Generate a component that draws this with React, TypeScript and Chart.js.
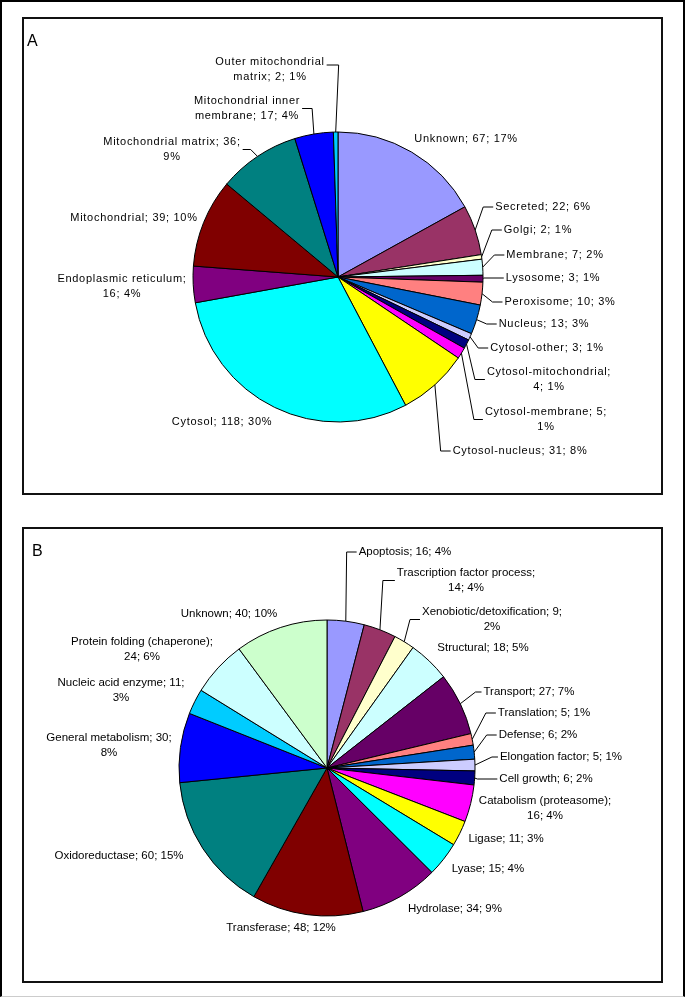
import React, { useEffect, useRef } from "react";
import { Chart, registerables } from "chart.js";
Chart.register(...registerables);

// ---------- Panel A: subcellular location ----------
const locationCategories = [
  "Unknown", "Secreted", "Golgi", "Membrane", "Lysosome", "Peroxisome", "Nucleus",
  "Cytosol-other", "Cytosol-mitochondrial", "Cytosol-membrane", "Cytosol-nucleus",
  "Cytosol", "Endoplasmic reticulum", "Mitochondrial", "Mitochondrial matrix",
  "Mitochondrial inner membrane", "Outer mitochondrial matrix",
];
const locationCounts = [67, 22, 2, 7, 3, 10, 13, 3, 4, 5, 31, 118, 16, 39, 36, 17, 2];
const locationPercents = [17, 6, 1, 2, 1, 3, 3, 1, 1, 1, 8, 30, 4, 10, 9, 4, 1];

// ---------- Panel B: molecular function ----------
const functionCategories = [
  "Apoptosis", "Trascription factor process", "Xenobiotic/detoxification", "Structural",
  "Transport", "Translation", "Defense", "Elongation factor", "Cell growth",
  "Catabolism (proteasome)", "Ligase", "Lyase", "Hydrolase", "Transferase",
  "Oxidoreductase", "General metabolism", "Nucleic acid enzyme",
  "Protein folding (chaperone)", "Unknown",
];
const functionCounts = [16, 14, 9, 18, 27, 5, 6, 5, 6, 16, 11, 15, 34, 48, 60, 30, 11, 24, 40];
const functionPercents = [4, 4, 2, 5, 7, 1, 2, 1, 2, 4, 3, 4, 9, 12, 15, 8, 3, 6, 10];

// Excel default series palette
const excelPalette = [
  "#9999FF", "#993366", "#FFFFCC", "#CCFFFF", "#660066", "#FF8080", "#0066CC",
  "#CCCCFF", "#000080", "#FF00FF", "#FFFF00", "#00FFFF", "#800080", "#800000",
  "#008080", "#0000FF", "#00CCFF", "#CCFFFF", "#CCFFCC",
];

// ---------- label layout (offsets from pie centre, first-line words, leader) ----------
type Place = { dx: number; dy: number; w?: number; lead?: "l" | "r"; stub?: number; ay?: number };

const placeA: Place[] = [
  { dx: 128, dy: -138 },
  { dx: 205, dy: -70, lead: "l", stub: 10 },
  { dx: 200, dy: -47, lead: "l", stub: 10 },
  { dx: 217, dy: -22, lead: "l", stub: 10 },
  { dx: 215, dy: 1, lead: "l", stub: 20 },
  { dx: 222, dy: 25, lead: "l", stub: 10 },
  { dx: 206, dy: 47, lead: "l", stub: 10 },
  { dx: 209, dy: 71, lead: "l", stub: 10 },
  { dx: 211, dy: 95, w: 1, lead: "l", stub: 10 },
  { dx: 208, dy: 135, w: 2, lead: "l", stub: 9 },
  { dx: 182, dy: 174, lead: "l", stub: 10 },
  { dx: -116, dy: 145 },
  { dx: -216, dy: 2, w: 2 },
  { dx: -204, dy: -59 },
  { dx: -166, dy: -135, w: 3, lead: "r", stub: 8 },
  { dx: -91, dy: -176, w: 2, lead: "r", stub: 10 },
  { dx: -68, dy: -215, w: 2, lead: "r", stub: 12, ay: 3 },
];

const placeB: Place[] = [
  { dx: 78, dy: -216, lead: "l", stub: 10 },
  { dx: 139, dy: -195, w: 3, lead: "l", stub: 12 },
  { dx: 165, dy: -156, w: 2, lead: "l", stub: 10 },
  { dx: 156, dy: -120 },
  { dx: 202, dy: -76, lead: "l", stub: 6 },
  { dx: 217, dy: -55, lead: "l", stub: 10 },
  { dx: 211, dy: -33, lead: "l", stub: 10 },
  { dx: 234, dy: -11, lead: "l", stub: 6 },
  { dx: 219, dy: 11, lead: "l", stub: 20 },
  { dx: 218, dy: 33, w: 2 },
  { dx: 179, dy: 71 },
  { dx: 161, dy: 101 },
  { dx: 128, dy: 141 },
  { dx: -46, dy: 160 },
  { dx: -208, dy: 88 },
  { dx: -218, dy: -30, w: 3 },
  { dx: -206, dy: -85, w: 4 },
  { dx: -185, dy: -126, w: 3 },
  { dx: -98, dy: -154 },
];

type PanelProps = {
  letter: string;
  letterX: number;
  letterY: number;
  categories: string[];
  counts: number[];
  percents: number[];
  places: Place[];
  width: number;
  height: number;
  cx: number;
  cy: number;
  r: number;
  font: string;
  spacing: string;
};

function PiePanel(p: PanelProps) {
  const ref = useRef<HTMLCanvasElement | null>(null);
  useEffect(() => {
    const canvas = ref.current;
    if (!canvas) return;
    const labelPlugin = {
      id: "excelLabels",
      afterDatasetsDraw(chart: any) {
        const ctx: CanvasRenderingContext2D = chart.ctx;
        const meta = chart.getDatasetMeta(0);
        ctx.save();
        ctx.fillStyle = "#000";
        ctx.font = "bold 16px 'Liberation Sans', Arial, sans-serif";
        ctx.font = "16px 'Liberation Sans', Arial, sans-serif";
        ctx.textAlign = "left";
        ctx.textBaseline = "alphabetic";
        ctx.fillText(p.letter, p.letterX, p.letterY);

        ctx.font = p.font;
        (ctx as any).letterSpacing = p.spacing;
        ctx.textAlign = "center";
        ctx.textBaseline = "middle";
        ctx.strokeStyle = "#000";
        ctx.lineWidth = 1;
        meta.data.forEach((arc: any, i: number) => {
          const pl = p.places[i];
          if (!pl) return;
          const full = `${p.categories[i]}; ${p.counts[i]}; ${p.percents[i]}%`;
          const words = full.split(" ");
          const lines = pl.w ? [words.slice(0, pl.w).join(" "), words.slice(pl.w).join(" ")] : [full];
          const x0 = arc.x + pl.dx;
          const y0 = arc.y + pl.dy;
          let maxW = 0;
          lines.forEach((ln, k) => {
            ctx.fillText(ln, x0, y0 + k * 15);
            maxW = Math.max(maxW, ctx.measureText(ln).width);
          });
          if (pl.lead) {
            const mid = (arc.startAngle + arc.endAngle) / 2;
            const ax = arc.x + Math.cos(mid) * arc.outerRadius;
            const ay = arc.y + Math.sin(mid) * arc.outerRadius;
            const ty = y0 + (pl.ay !== undefined ? pl.ay : (lines.length - 1) * 7.5);
            const tx = pl.lead === "l" ? x0 - maxW / 2 - 2 : x0 + maxW / 2 + 2;
            const ex = pl.lead === "l" ? tx - (pl.stub || 10) : tx + (pl.stub || 10);
            ctx.beginPath();
            ctx.moveTo(ax, ay);
            ctx.lineTo(ex, ty);
            ctx.lineTo(tx, ty);
            ctx.stroke();
          }
        });
        ctx.restore();
      },
    };
    const chart = new Chart(canvas, {
      type: "pie",
      data: {
        labels: p.categories,
        datasets: [
          {
            data: p.counts,
            backgroundColor: excelPalette.slice(0, p.counts.length),
            borderColor: "#000",
            borderWidth: 1,
          },
        ],
      },
      options: {
        responsive: false,
        animation: false,
        radius: p.r,
        layout: {
          padding: {
            left: p.cx - p.r,
            right: p.width - p.cx - p.r,
            top: p.cy - p.r,
            bottom: p.height - p.cy - p.r,
          },
        },
        plugins: { legend: { display: false }, tooltip: { enabled: false } },
        events: [],
      } as any,
      plugins: [labelPlugin],
    });
    return () => chart.destroy();
  }, []);
  return <canvas ref={ref} width={p.width} height={p.height} style={{ display: "block" }} />;
}

export default function App() {
  return (
    <div
      style={{
        position: "absolute",
        left: 0,
        top: 0,
        width: 685,
        height: 997,
        boxSizing: "border-box",
        borderLeft: "2px solid #000",
        borderTop: "2px solid #000",
        borderRight: "2px solid #000",
        borderBottom: "1px solid #ccc",
        background: "#fff",
      }}
    >
      <div
        style={{
          position: "absolute",
          left: 20,
          top: 15,
          width: 641,
          height: 478,
          boxSizing: "border-box",
          border: "2px solid #111",
        }}
      >
        <PiePanel
          letter="A"
          letterX={3}
          letterY={27}
          categories={locationCategories}
          counts={locationCounts}
          percents={locationPercents}
          places={placeA}
          width={637}
          height={474}
          cx={314}
          cy={258}
          r={145}
          font="11px 'Liberation Sans', Arial, sans-serif"
          spacing="0.7px"
        />
      </div>
      <div
        style={{
          position: "absolute",
          left: 20,
          top: 525,
          width: 641,
          height: 456,
          boxSizing: "border-box",
          border: "2px solid #111",
        }}
      >
        <PiePanel
          letter="B"
          letterX={8}
          letterY={27}
          categories={functionCategories}
          counts={functionCounts}
          percents={functionPercents}
          places={placeB}
          width={637}
          height={452}
          cx={303}
          cy={239}
          r={148}
          font="11.5px 'Liberation Sans', Arial, sans-serif"
          spacing="0px"
        />
      </div>
    </div>
  );
}
